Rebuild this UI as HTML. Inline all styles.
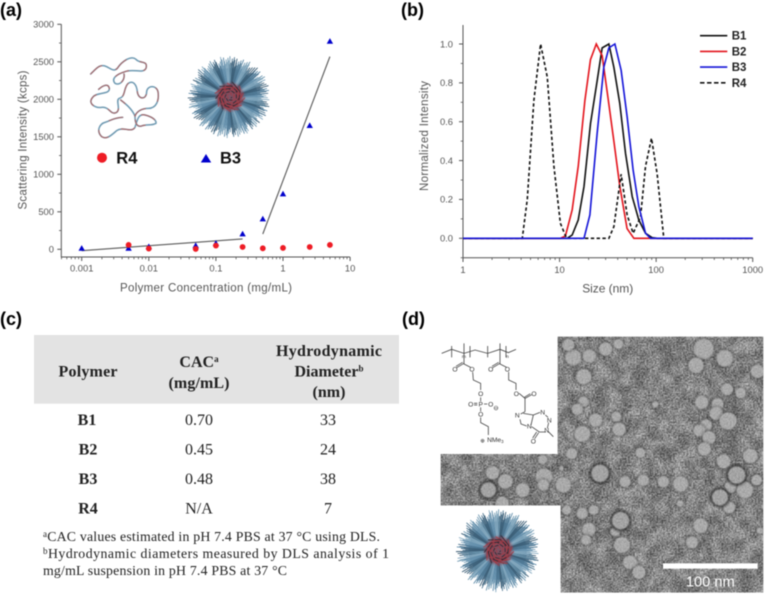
<!DOCTYPE html>
<html lang="en">
<head>
<meta charset="utf-8">
<title>Polymer micelle characterization figure</title>
<style>
html,body{margin:0;padding:0;background:#fff;width:768px;height:594px;overflow:hidden}
svg{display:block;filter:blur(0.4px)}
text{font-family:"Liberation Sans",sans-serif}
.ax{fill:#555;font-size:9.4px}
.ttl{fill:#555;font-size:11.5px}
.pl{fill:#000;font-size:18px;font-weight:bold}
.ser{font-family:"Liberation Serif",serif;fill:#222;font-size:15.5px}
.serb{font-family:"Liberation Serif",serif;fill:#222;font-size:15.5px;font-weight:bold}
.sup{font-size:9px}
.fn{font-family:"Liberation Serif",serif;fill:#222;font-size:13.8px}
.ch{font-size:20px;fill:#333;text-anchor:middle}
</style>
</head>
<body>
<svg id="fig" xmlns="http://www.w3.org/2000/svg" width="768" height="594" viewBox="0 0 768 594">
<defs>
  <filter id="noise" x="0" y="0" width="100%" height="100%" color-interpolation-filters="sRGB">
    <feTurbulence type="fractalNoise" baseFrequency="0.2" numOctaves="3" seed="4"/>
    <feColorMatrix type="matrix" values="1.7 0 0 0 -0.3  1.7 0 0 0 -0.3  1.7 0 0 0 -0.3  0 0 0 0 0.5"/>
  </filter>
  <filter id="mottle" x="0" y="0" width="100%" height="100%" color-interpolation-filters="sRGB">
    <feTurbulence type="fractalNoise" baseFrequency="0.025" numOctaves="3" seed="9"/>
    <feColorMatrix type="matrix" values="2.2 0 0 0 -0.62  2.2 0 0 0 -0.62  2.2 0 0 0 -0.62  0 0 0 0 0.5"/>
  </filter>
  <filter id="soft" x="-60%" y="-100%" width="220%" height="300%"><feGaussianBlur stdDeviation="24"/></filter>
  <filter id="soft2" x="-40%" y="-40%" width="180%" height="180%"><feGaussianBlur stdDeviation="3"/></filter>
  <filter id="soft3" x="-40%" y="-40%" width="180%" height="180%"><feGaussianBlur stdDeviation="1.2"/></filter>
  <clipPath id="temclip"><polygon points="413,110 1030,110 1030,878 422,878 422,616 62,616 62,462 413,462"/></clipPath>
</defs>

<rect width="768" height="594" fill="#fff"/>

<text class="pl" x="0" y="16">(a)</text>
<text class="pl" x="401" y="16">(b)</text>
<text class="pl" x="0" y="325">(c)</text>
<text class="pl" x="402" y="325">(d)</text>

<!-- Chart A -->
<g id="chartA">
  <text class="ttl" transform="translate(26.7,140) rotate(-90)" text-anchor="middle" textLength="139">Scattering Intensity (kcps)</text>
  <text class="ttl" x="206" y="291.7" text-anchor="middle" textLength="172">Polymer Concentration (mg/mL)</text>
  <g transform="scale(0.3333)" fill="none" stroke-linecap="round">
    <g id="coilBase" stroke="#6f9ab2" stroke-width="4.5">
      <path id="coilA" d="M272 222 C290 205,300 190,320 200 C335 208,342 215,352 205 C365 185,392 165,408 178 C420 192,445 180,438 205 C430 222,400 205,375 215 C352 222,332 235,345 250 C360 258,375 240,372 222"/>
      <path id="coilB" d="M296 268 C310 255,325 250,328 265 C330 285,290 275,278 292 C262 310,285 325,305 322 C330 320,330 345,348 338 C365 330,345 300,358 295 C378 290,370 262,385 250 C400 240,410 255,412 275 C415 300,440 300,440 275 C442 255,470 255,474 275 C478 300,470 325,445 325 C425 325,410 335,405 348 C395 325,375 310,362 300"/>
      <path id="coilC" d="M368 352 C345 352,330 362,318 366 C295 372,290 395,305 410 C320 420,335 405,350 392 C370 378,395 400,405 382 C412 360,415 340,435 345 C455 350,470 360,468 370 C455 378,440 372,425 378 C410 382,405 368,405 348"/>
    </g>
    <g stroke="#a86a6c" stroke-width="3.5" stroke-dasharray="42 46">
      <use href="#coilA"/><use href="#coilB"/><use href="#coilC"/>
    </g>
  </g>
  <g id="micelleA"></g>
  <circle cx="102" cy="157.7" r="5" fill="#ee1c25"/>
  <text x="116.3" y="163.5" font-size="16.5" font-weight="bold" fill="#111">R4</text>
  <polygon points="206,154 211.2,162.5 200.8,162.5" fill="#0000cc"/>
  <text x="220" y="163.5" font-size="16.5" font-weight="bold" fill="#111">B3</text>
</g>

<!-- Chart B -->
<g id="chartB">
  <text class="ttl" transform="translate(428,136) rotate(-90)" text-anchor="middle" textLength="110">Normalized Intensity</text>
  <text class="ttl" x="607.7" y="292.3" text-anchor="middle" textLength="51" style="font-size:12px">Size (nm)</text>
</g>

<!-- Table C -->
<g id="tableC">
  <rect x="34" y="335" width="365" height="68.7" fill="#e3e3e3"/>
  <text class="serb" x="88" y="376.5" text-anchor="middle" textLength="59" style="font-size:16px">Polymer</text>
  <text class="serb" x="199" y="367" text-anchor="middle" style="font-size:16px">CAC<tspan class="sup" dy="-5">a</tspan></text>
  <text class="serb" x="199" y="388" text-anchor="middle" textLength="61" style="font-size:16px">(mg/mL)</text>
  <text class="serb" x="329" y="356" text-anchor="middle" textLength="106" style="font-size:16px">Hydrodynamic</text>
  <text class="serb" x="329" y="376.5" text-anchor="middle" style="font-size:16px">Diameter<tspan class="sup" dy="-5">b</tspan></text>
  <text class="serb" x="329" y="397" text-anchor="middle" textLength="33" style="font-size:16px">(nm)</text>

  <text class="serb" x="87" y="425" text-anchor="middle" style="font-size:16px">B1</text>
  <text class="ser" x="199" y="425" text-anchor="middle" style="font-size:16px">0.70</text>
  <text class="ser" x="328" y="425" text-anchor="middle" style="font-size:16px">33</text>

  <text class="serb" x="88" y="454.5" text-anchor="middle" style="font-size:16px">B2</text>
  <text class="ser" x="199" y="454.5" text-anchor="middle" style="font-size:16px">0.45</text>
  <text class="ser" x="328" y="454.5" text-anchor="middle" style="font-size:16px">24</text>

  <text class="serb" x="88" y="484" text-anchor="middle" style="font-size:16px">B3</text>
  <text class="ser" x="199" y="484" text-anchor="middle" style="font-size:16px">0.48</text>
  <text class="ser" x="328" y="484" text-anchor="middle" style="font-size:16px">38</text>

  <text class="serb" x="88" y="513.5" text-anchor="middle" style="font-size:16px">R4</text>
  <text class="ser" x="199" y="513.5" text-anchor="middle" style="font-size:16px">N/A</text>
  <text class="ser" x="328" y="513.5" text-anchor="middle" style="font-size:16px">7</text>

  <text class="fn" x="43" y="541" textLength="337"><tspan class="sup" dy="-4">a</tspan><tspan dy="4">CAC values estimated in pH 7.4 PBS at 37 °C using DLS.</tspan></text>
  <text class="fn" x="43" y="558" textLength="346"><tspan class="sup" dy="-4">b</tspan><tspan dy="4">Hydrodynamic diameters measured by DLS analysis of 1</tspan></text>
  <text class="fn" x="43" y="575" textLength="244">mg/mL suspension in pH 7.4 PBS at 37 °C</text>
</g>

<!-- Panel D -->
<g id="panelD" transform="translate(420,300) scale(0.33333)">
  <g clip-path="url(#temclip)">
    <rect x="60" y="105" width="975" height="780" fill="#868686"/>
    <rect x="60" y="105" width="975" height="780" filter="url(#mottle)" opacity="0.6"/>
    <g id="temBlotches" fill="#4a4a4a" opacity="0.45">
      <ellipse filter="url(#soft)" cx="900" cy="370" rx="70" ry="90"/>
      <ellipse filter="url(#soft)" cx="700" cy="165" rx="130" ry="18"/>
      <ellipse filter="url(#soft)" cx="930" cy="200" rx="90" ry="20"/>
      <ellipse filter="url(#soft)" cx="960" cy="540" rx="60" ry="50"/>
      <ellipse filter="url(#soft)" cx="540" cy="530" rx="55" ry="30"/>
      <ellipse filter="url(#soft)" cx="250" cy="560" rx="110" ry="30"/>
      <ellipse filter="url(#soft)" cx="490" cy="650" rx="60" ry="25"/>
      <ellipse filter="url(#soft)" cx="780" cy="430" rx="80" ry="14"/>
      <ellipse filter="url(#soft)" cx="520" cy="800" rx="80" ry="25"/>
      <ellipse filter="url(#soft)" cx="960" cy="850" rx="70" ry="20"/>
    </g>
    <rect x="60" y="105" width="975" height="780" filter="url(#noise)" opacity="0.6"/>
    <g id="temParticles"></g>
    <rect x="60" y="105" width="975" height="780" filter="url(#noise)" opacity="0.28"/>
  </g>
  <rect x="729" y="790" width="284" height="16" fill="#fff"/>
  <text x="871" y="860" text-anchor="middle" font-size="44" fill="#fff">100 nm</text>

  <g fill="none" stroke="#444" stroke-width="2.4">
    <polyline points="65,160 95,148 132,160 165,150 203,160 240,148 265,158 288,148"/>
    <path d="M95 138V172M150 138V172M203 138V172M258 138V172"/>
    <polyline points="132,130 132,192 152,202"/>
    <path d="M132 190L110 203M128 187L108 199"/>
    <polyline points="158,216 160,240 182,250 182,270"/>
    <path d="M182 292V304M162 310H172M162 315H172M192 312H202M182 322V334"/>
    <polyline points="182,352 182,368 205,380 205,405"/>
    <polyline points="240,130 240,192 260,202"/>
    <path d="M240 190L218 203M236 187L216 199"/>
    <polyline points="266,216 266,240 288,250 288,270"/>
    <polyline points="297,280 315,295 335,284"/>
    <path d="M313 292L331 281M315 295V335"/>
    <polyline points="315,335 302,342"/>
    <polyline points="300,358 303,372 320,378"/>
    <path d="M310 340L340 345M340 345L360 337M340 345L333 375M376 345L384 352M386 368L382 385M378 396L358 396 335 380"/>
    <path d="M350 396L338 414M356 398L344 416M384 394L400 410"/>
  </g>
  <g>
    <text class="ch" x="132" y="174" style="font-size:15px">m</text>
    <text class="ch" x="262" y="174" style="font-size:15px">n</text>
    <text class="ch" x="105" y="214">O</text><text class="ch" x="156" y="214">O</text>
    <text class="ch" x="212" y="214">O</text><text class="ch" x="262" y="214">O</text>
    <text class="ch" x="182" y="288">O</text><text class="ch" x="289" y="288">O</text>
    <text class="ch" x="342" y="288">O</text>
    <text class="ch" x="152" y="319">O</text><text class="ch" x="182" y="319">P</text>
    <text class="ch" x="212" y="319">O</text><text class="ch" x="228" y="330">⊖</text>
    <text class="ch" x="182" y="349">O</text>
    <text class="ch" x="226" y="426">NMe<tspan font-size="13" dy="3">3</tspan></text>
    <text class="ch" x="188" y="427" style="font-size:17px">⊕</text>
    <text class="ch" x="292" y="353">N</text><text class="ch" x="328" y="386">N</text>
    <text class="ch" x="368" y="343">N</text><text class="ch" x="388" y="367">N</text>
    <text class="ch" x="380" y="397">N</text><text class="ch" x="340" y="431">O</text>
  </g>
</g>
<g id="micelleD"></g>

<script>
/* Chart A data */
var concB3 = [0.001, 0.005, 0.01, 0.05, 0.1, 0.25, 0.5, 1, 2.5, 5];
var intensityB3 = [13, 13, 35, 50, 80, 205, 405, 738, 1650, 2773];
var concR4 = [0.005, 0.01, 0.05, 0.1, 0.25, 0.5, 1, 2.5, 5];
var intensityR4 = [58, 10, 5, 49, 31, 13, 18, 31, 58];
var fitLowConc = [0.001, 0.25];
var fitLowIntensity = [-18, 138];
var fitHighConc = [0.5, 5];
var fitHighIntensity = [204, 2569];
var xTicksA = [0.001, 0.01, 0.1, 1, 10];
var xTickLabelsA = ["0.001", "0.01", "0.1", "1", "10"];
var yTicksA = [0, 500, 1000, 1500, 2000, 2500, 3000];

/* Chart B data */
var sizeB1 = [1, 12, 13.5, 15.6, 17.9, 20.9, 24.5, 27.6, 32.4, 36.5, 42, 48.2, 56.5, 66.2, 77.6, 90.9, 102.5, 1000];
var normB1 = [0, 0, 0.017, 0.094, 0.266, 0.59, 0.81, 0.98, 1, 0.88, 0.695, 0.437, 0.215, 0.094, 0.026, 0.003, 0, 0];
var sizeB2 = [1, 10.2, 11.5, 13.5, 15.6, 18.3, 20.9, 24, 27.6, 31.6, 36.5, 42, 50, 58.8, 1000];
var normB2 = [0, 0, 0.012, 0.146, 0.37, 0.71, 0.92, 1, 0.94, 0.73, 0.5, 0.27, 0.05, 0, 0];
var sizeB3 = [1, 17.9, 20.6, 24.5, 28.7, 32.4, 37.4, 43.4, 50.1, 57.8, 66.2, 77.6, 87.4, 1000];
var normB3 = [0, 0, 0.12, 0.54, 0.88, 0.98, 1, 0.865, 0.625, 0.35, 0.163, 0.026, 0, 0];
var sizeR4 = [1, 4.11, 4.63, 5.42, 6.36, 7.46, 8.74, 10.2, 11.8, 32.4, 36.5, 43.4, 50.1, 57.8, 68.9, 77.6, 89.5, 102.5, 120, 1000];
var normR4 = [0, 0, 0.2, 0.71, 1, 0.83, 0.37, 0.077, 0, 0, 0.06, 0.33, 0.12, 0.026, 0.11, 0.37, 0.515, 0.33, 0, 0];
var xTicksB = [1, 10, 100, 1000];
var xTickLabelsB = ["1", "10", "100", "1000"];
var yTicksB = [0, 0.2, 0.4, 0.6, 0.8, 1];
var yTickLabelsB = ["0.0", "0.2", "0.4", "0.6", "0.8", "1.0"];
var legendNamesB = ["B1", "B2", "B3", "R4"];

var NS = "http://www.w3.org/2000/svg";
var AXC = "#555";

function xA(v){ return 81.7 + (Math.log10(v) + 3) * 67.1; }
function yA(v){ return 249.3 - v * 0.075; }
function xB(v){ return 463 + Math.log10(v) * 96.57; }
function yB(v){ return 238.3 - v * 194.3; }

function mk(tag, parent, attrs){
  var el = document.createElementNS(NS, tag);
  for (var k in attrs) el.setAttribute(k, attrs[k]);
  parent.appendChild(el);
  return el;
}
function poly(xs, ys, fx, fy){
  return xs.map(function(x, i){ return fx(x).toFixed(2) + "," + fy(ys[i]).toFixed(2); }).join(" ");
}

/* ---------- chart A ---------- */
var ga = document.getElementById("chartA");
var axA = mk("path", ga, {d:"M61.3 24.3V257H350", fill:"none", stroke:AXC, "stroke-width":1});



xTicksA.forEach(function(t, i){
  var tk = mk("line", ga, {x1:xA(t), x2:xA(t), y1:257, y2:261, stroke:AXC});
  
  
  var lb = mk("text", ga, {x:xA(t), y:271.5, "text-anchor":"middle", "class":"ax"});
  
  
  lb.textContent = xTickLabelsA[i];
  for (var m = 2; m <= 9; m++){
    var mv = t * m / 10;
    if (xA(mv) < 61.3) continue;
    var mt = mk("line", ga, {x1:xA(mv), x2:xA(mv), y1:257, y2:259.3, stroke:AXC, "stroke-width":0.8});
    
    
  }
});
yTicksA.forEach(function(t){
  var tk = mk("line", ga, {x1:57.3, x2:61.3, y1:yA(t), y2:yA(t), stroke:AXC});
  
  
  var lb = mk("text", ga, {x:54, y:yA(t) + 3.3, "text-anchor":"end", "class":"ax"});
  
  
  lb.textContent = String(t);
  if (t < 3000){
    var mt = mk("line", ga, {x1:59, x2:61.3, y1:yA(t + 250), y2:yA(t + 250), stroke:AXC, "stroke-width":0.8});
    
    
  }
});
var f1 = mk("polyline", ga, {points:poly(fitLowConc, fitLowIntensity, xA, yA), fill:"none", stroke:"#5a5a5a", "stroke-width":1.1});


var f2 = mk("polyline", ga, {points:poly(fitHighConc, fitHighIntensity, xA, yA), fill:"none", stroke:"#5a5a5a", "stroke-width":1.1});


concB3.forEach(function(c, i){
  var x = xA(c), y = yA(intensityB3[i]);
  var p = mk("polygon", ga, {points:x + "," + (y - 3.2) + " " + (x + 3.2) + "," + (y + 2.4) + " " + (x - 3.2) + "," + (y + 2.4), fill:"#0000cc"});
  
  
});
concR4.forEach(function(c, i){
  var p = mk("circle", ga, {cx:xA(c), cy:yA(intensityR4[i]), r:2.9, fill:"#ee1c25"});
  
  
});

/* ---------- chart B ---------- */
var gb = document.getElementById("chartB");
var axB = mk("path", gb, {d:"M463 25V257.7H752.7", fill:"none", stroke:AXC, "stroke-width":1});


xTicksB.forEach(function(t, i){
  var tk = mk("line", gb, {x1:xB(t), x2:xB(t), y1:257.7, y2:262, stroke:AXC});
  
  
  var lb = mk("text", gb, {x:xB(t), y:273, "text-anchor":"middle", "class":"ax"});
  
  
  lb.textContent = xTickLabelsB[i];
  if (t < 1000){
    for (var m = 2; m <= 9; m++){
      var mt = mk("line", gb, {x1:xB(t * m), x2:xB(t * m), y1:257.7, y2:260, stroke:AXC, "stroke-width":0.8});
      
      
    }
  }
});
yTicksB.forEach(function(t, i){
  var tk = mk("line", gb, {x1:459, x2:463, y1:yB(t), y2:yB(t), stroke:AXC});
  
  
  var lb = mk("text", gb, {x:453, y:yB(t) + 3.3, "text-anchor":"end", "class":"ax"});
  
  
  lb.textContent = yTickLabelsB[i];
  var mt = mk("line", gb, {x1:460.7, x2:463, y1:yB(t - 0.1), y2:yB(t - 0.1), stroke:AXC, "stroke-width":0.8});
  
  
});
var lB1 = mk("polyline", gb, {points:poly(sizeB1, normB1, xB, yB), fill:"none", stroke:"#111", "stroke-width":1.6});


var lB2 = mk("polyline", gb, {points:poly(sizeB2, normB2, xB, yB), fill:"none", stroke:"#e3141c", "stroke-width":1.6});


var lR4 = mk("polyline", gb, {points:poly(sizeR4, normR4, xB, yB), fill:"none", stroke:"#111", "stroke-width":1.6, "stroke-dasharray":"3.4 2.4"});


var lB3 = mk("polyline", gb, {points:poly(sizeB3, normB3, xB, yB), fill:"none", stroke:"#1414d8", "stroke-width":1.6});



var legendColors = ["#111", "#e3141c", "#1414d8", "#111"];
legendNamesB.forEach(function(n, i){
  var y = 35.7 + i * 15.7;
  var ll = mk("line", gb, {x1:700, x2:727.3, y1:y, y2:y, stroke:legendColors[i], "stroke-width":1.6});
  if (i === 3) ll.setAttribute("stroke-dasharray", "4.5 2.5");
  
  
  var lt = mk("text", gb, {x:731.7, y:y + 4, "font-size":11.5, "font-weight":"bold", fill:"#222"});
  
  
  lt.textContent = n;
});

/* ---------- micelle illustrations ---------- */
function drawMicelle(g, cx, cy, R){
  mk("circle", g, {cx:cx, cy:cy, r:R * 0.7, fill:"#4f7690"});
  var n = 280;
  for (var i = 0; i < n; i++){
    var a = i * 2.39996;
    var k = 0.74 + 0.26 * ((i * 37) % 101) / 100;
    var inner = R * 0.3;
    var c = ["#6d97b0", "#4a728d", "#86aac0", "#3a5c74", "#5d8aa8"][(i * 3) % 5];
    mk("line", g, {
      x1:cx + Math.cos(a) * inner, y1:cy + Math.sin(a) * inner,
      x2:cx + Math.cos(a) * R * k, y2:cy + Math.sin(a) * R * k,
      stroke:c, "stroke-width":0.9, "stroke-linecap":"round"
    });
  }
  mk("circle", g, {cx:cx + 1, cy:cy, r:R * 0.34, fill:"#8b4454", opacity:0.75, filter:"url(#soft3)"});
  for (var j = 0; j < 60; j++){
    var b = j * 2.39996, d = R * 0.38 * Math.sqrt((j + 1) / 60);
    mk("line", g, {
      x1:cx + 1 + Math.cos(b) * d, y1:cy + Math.sin(b) * d,
      x2:cx + 1 + Math.cos(b + 1) * d * 0.75, y2:cy + Math.sin(b + 1) * d * 0.75,
      stroke:j % 3 ? "#a23a44" : "#2f2630", "stroke-width":0.8
    });
  }
}
drawMicelle(document.getElementById("micelleA"), 229, 97, 41);
drawMicelle(document.getElementById("micelleD"), 497.7, 550.7, 41.5);

/* ---------- TEM particles (illustration of the micrograph) ---------- */
var temCircles = [[460,172,24],[508,168,20],[557,147,20],[595,132,15],[445,135,18],[851,147,30],[914,175,25],[828,196,23],[1012,214,20],[491,230,23],[845,307,20],[490,305,16],[472,328,17],[527,360,20],[589,350,15],[597,388,20],[487,402,24],[706,313,10],[921,268,18],[962,279,16],[893,312,18],[888,340,20],[924,363,26],[858,376,18],[838,392,18],[867,413,20],[853,447,20],[455,461,17],[661,458,15],[991,468,22],[911,484,21],[932,560,18],[975,570,25],[928,622,18],[1010,540,16],[615,545,17],[670,541,17],[730,545,17],[782,552,23],[430,555,23],[372,530,25],[370,555,17],[308,570,21],[256,544,22],[218,518,20],[247,610,20],[440,630,14],[487,640,17],[521,630,15],[507,688,20],[586,695,14],[498,720,15],[606,735,24],[842,677,22],[816,727,18],[630,787,21],[657,817,20],[780,610,10],[424,505,7],[1020,692,10],[368,478,14]];
var temDark = [[950,525,28],[900,592,26],[540,520,28],[205,570,25],[602,662,28]];
var tp = document.getElementById("temParticles");
temCircles.forEach(function(c){
  mk("circle", tp, {cx:c[0], cy:c[1], r:c[2] + 4, fill:"#444", opacity:0.55, filter:"url(#soft2)"});
  mk("circle", tp, {cx:c[0], cy:c[1], r:c[2], fill:"#b0b0b0", filter:"url(#soft3)"});
});
temDark.forEach(function(c){
  mk("circle", tp, {cx:c[0], cy:c[1], r:c[2] + 5, fill:"#2c2c2c", opacity:0.8, filter:"url(#soft2)"});
  mk("circle", tp, {cx:c[0], cy:c[1], r:c[2] - 2, fill:"#a8a8a8", filter:"url(#soft3)"});
});
</script>
</svg>
</body>
</html>
